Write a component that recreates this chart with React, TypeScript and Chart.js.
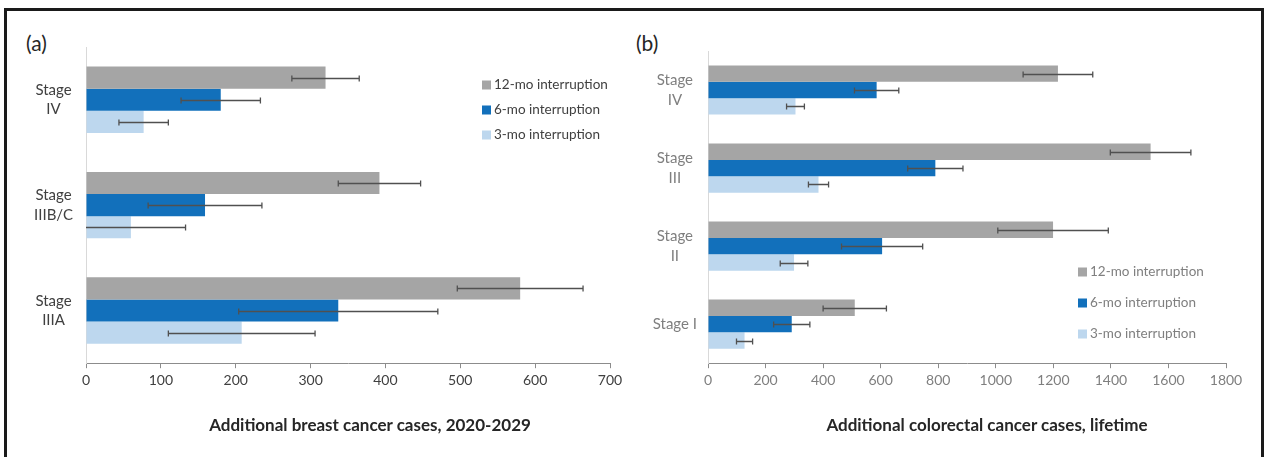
import React, { useEffect, useRef } from 'react';
import { Chart, registerables } from 'chart.js';

Chart.register(...registerables);

const FONT = "Lato, 'Open Sans', sans-serif";

const seriesNames = ['12-mo interruption', '6-mo interruption', '3-mo interruption'];
const seriesColors = ['#A5A5A5', '#1270BB', '#BDD7EE'];

// Panel (a): breast cancer
const breastCategories = [['Stage', 'IV'], ['Stage', 'IIIB/C'], ['Stage', 'IIIA']];
const breast12 = [320, 392, 580];
const breast12Err = [45, 55, 84];
const breast6 = [180, 159, 337];
const breast6Err = [53, 76, 133];
const breast3 = [77, 60, 208];
const breast3Err = [33, 73, 98];
const breastAxisTitle = 'Additional breast cancer cases, 2020-2029';
const breastMax = 700;
const breastStep = 100;

// Panel (b): colorectal cancer
const crcCategories: (string | string[])[] = [['Stage', 'IV'], ['Stage', 'III'], ['Stage', 'II'], 'Stage I'];
const crc12 = [1216, 1538, 1199, 510];
const crc12Err = [121, 140, 192, 110];
const crc6 = [586, 790, 605, 291];
const crc6Err = [77, 96, 141, 63];
const crc3 = [304, 384, 299, 127];
const crc3Err = [31, 35, 48, 28];
const crcAxisTitle = 'Additional colorectal cancer cases, lifetime';
const crcMax = 1800;
const crcStep = 200;

const errorBarPlugin = {
  id: 'errorBars',
  afterDatasetsDraw(chart: any) {
    const ctx = chart.ctx;
    const xs = chart.scales.x;
    const area = chart.chartArea;
    ctx.save();
    ctx.beginPath();
    ctx.rect(area.left, area.top - 10, area.right - area.left + 40, area.bottom - area.top + 20);
    ctx.clip();
    ctx.strokeStyle = '#505050';
    ctx.lineWidth = 1.3;
    chart.data.datasets.forEach((ds: any, i: number) => {
      const meta = chart.getDatasetMeta(i);
      meta.data.forEach((bar: any, j: number) => {
        const v = ds.data[j];
        const e = ds.errors[j];
        const x1 = xs.getPixelForValue(v - e);
        const x2 = xs.getPixelForValue(v + e);
        const y = Math.round(bar.y) + 0.5;
        ctx.beginPath();
        ctx.moveTo(x1, y);
        ctx.lineTo(x2, y);
        ctx.moveTo(x1, y - 3);
        ctx.lineTo(x1, y + 3);
        ctx.moveTo(x2, y - 3);
        ctx.lineTo(x2, y + 3);
        ctx.stroke();
      });
    });
    ctx.restore();
  },
};

const legendPlugin = {
  id: 'customLegend',
  afterDraw(chart: any, _args: any, opts: any) {
    const ctx = chart.ctx;
    ctx.save();
    ctx.font = `13.5px ${FONT}`;
    ctx.textBaseline = 'middle';
    ctx.textAlign = 'left';
    chart.data.datasets.forEach((ds: any, i: number) => {
      const y = opts.y + i * opts.gap;
      ctx.fillStyle = ds.backgroundColor;
      ctx.fillRect(opts.x, y - 4.5, 9, 9);
      ctx.fillStyle = opts.color;
      ctx.fillText(ds.label, opts.x + 12, y);
    });
    ctx.restore();
  },
};

function makeConfig(p: {
  labels: any[];
  values: number[][];
  errors: number[][];
  max: number;
  step: number;
  textColor: string;
  yWidth: number;
  yPad: number;
  padding: any;
  legend: any;
}) {
  return {
    type: 'bar',
    data: {
      labels: p.labels,
      datasets: p.values.map((vals, i) => ({
        label: seriesNames[i],
        data: vals,
        errors: p.errors[i],
        backgroundColor: seriesColors[i],
        borderWidth: 0,
        categoryPercentage: 0.63,
        barPercentage: 1.0,
      })),
    },
    options: {
      indexAxis: 'y',
      responsive: false,
      animation: false,
      layout: { padding: p.padding },
      plugins: {
        legend: { display: false },
        tooltip: { enabled: false },
        customLegend: p.legend,
      },
      scales: {
        x: {
          min: 0,
          max: p.max,
          ticks: {
            stepSize: p.step,
            color: p.textColor,
            padding: 4,
            font: { family: FONT, size: 14 },
            callback: (v: any) => String(v),
          },
          grid: {
            drawOnChartArea: false,
            drawTicks: true,
            tickLength: 5,
            color: '#8c8c8c',
          },
          border: { display: true, color: '#8c8c8c', width: 1 },
        },
        y: {
          afterFit: (scale: any) => {
            scale.width = p.yWidth;
          },
          ticks: {
            color: p.textColor,
            crossAlign: 'center',
            padding: p.yPad,
            font: { family: FONT, size: 15, lineHeight: 1.3 },
          },
          grid: { display: false, drawTicks: false },
          border: { display: true, color: '#d9d9d9', width: 1 },
        },
      },
    },
    plugins: [errorBarPlugin, legendPlugin],
  };
}

function ChartCanvas({ left, top, width, height, config }: any) {
  const ref = useRef<HTMLCanvasElement>(null);
  useEffect(() => {
    if (!ref.current) return;
    const chart = new Chart(ref.current, config);
    return () => chart.destroy();
  }, []);
  return (
    <canvas
      ref={ref}
      width={width}
      height={height}
      style={{ position: 'absolute', left, top, width, height }}
    />
  );
}

const panelLabelStyle: React.CSSProperties = {
  position: 'absolute',
  top: 30,
  fontFamily: FONT,
  fontSize: 21,
  color: '#262626',
  lineHeight: '26px',
};

const axisTitleStyle: React.CSSProperties = {
  position: 'absolute',
  top: 413,
  width: 500,
  textAlign: 'center',
  fontFamily: FONT,
  fontSize: 17,
  fontWeight: 'bold',
  color: '#262626',
  lineHeight: '23px',
  whiteSpace: 'nowrap',
};

export default function App() {
  const configA = makeConfig({
    labels: breastCategories,
    values: [breast12, breast6, breast3],
    errors: [breast12Err, breast6Err, breast3Err],
    max: breastMax,
    step: breastStep,
    textColor: '#404040',
    yWidth: 69,
    yPad: 13,
    padding: { top: 35, left: 9, right: 18, bottom: 64 },
    legend: { x: 474, y: 73, gap: 25, color: '#404040' },
  });
  const configB = makeConfig({
    labels: crcCategories,
    values: [crc12, crc6, crc3],
    errors: [crc12Err, crc6Err, crc3Err],
    max: crcMax,
    step: crcStep,
    textColor: '#7f7f7f',
    yWidth: 68,
    yPad: 11,
    padding: { top: 39, left: 8, right: 36, bottom: 64 },
    legend: { x: 446, y: 260, gap: 31, color: '#7f7f7f' },
  });
  return (
    <div
      style={{
        position: 'fixed',
        left: 0,
        top: 0,
        width: 1267,
        height: 457,
        overflow: 'hidden',
        background: '#ffffff',
      }}
    >
      <div
        style={{
          position: 'absolute',
          left: 4,
          top: 8,
          width: 1260,
          height: 470,
          border: '3px solid #1a1a1a',
          boxSizing: 'border-box',
        }}
      />
      <div style={{ ...panelLabelStyle, left: 26 }}>(a)</div>
      <div style={{ ...panelLabelStyle, left: 636 }}>(b)</div>
      <ChartCanvas left={8} top={12} width={620} height={445} config={configA} />
      <ChartCanvas left={632} top={12} width={630} height={445} config={configB} />
      <div style={{ ...axisTitleStyle, left: 370 - 250 }}>{breastAxisTitle}</div>
      <div style={{ ...axisTitleStyle, left: 987 - 250 }}>{crcAxisTitle}</div>
    </div>
  );
}
